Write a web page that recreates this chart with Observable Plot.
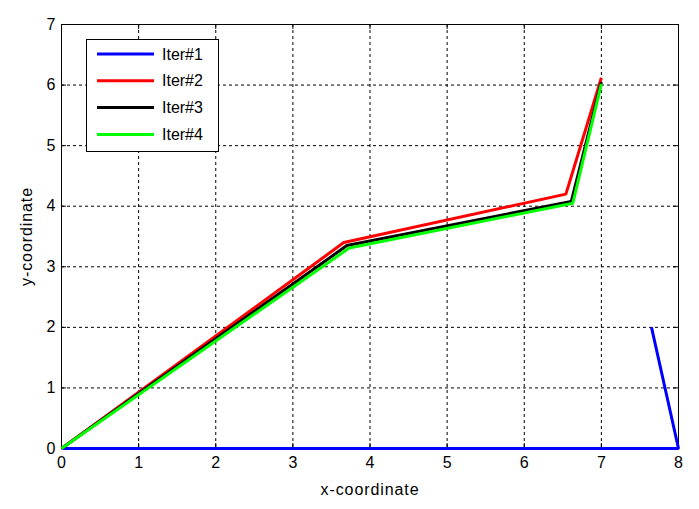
<!DOCTYPE html>
<html>
<head>
<meta charset="utf-8">
<script src="https://cdn.jsdelivr.net/npm/d3@7"></script>
<script src="https://cdn.jsdelivr.net/npm/@observablehq/plot@0.6"></script>
<style>
  html, body { margin: 0; padding: 0; background: #fff; }
  #chart { position: relative; width: 699px; height: 509px; }
</style>
</head>
<body>
<div id="chart"></div>
<script>
const seriesNames = ["Iter#1", "Iter#2", "Iter#3", "Iter#4"];
const seriesColors = ["#0000ff", "#ff0000", "#000000", "#00ff00"];
const iter1X = [0, 8, 7.65];
const iter1Y = [0, 0, 2.0];
const iter2X = [0, 3.66, 6.54, 7.0];
const iter2Y = [0, 3.40, 4.20, 6.12];
const iter3X = [0, 3.70, 6.61, 7.0];
const iter3Y = [0, 3.35, 4.08, 6.05];
const iter4X = [0, 3.73, 6.63, 7.0];
const iter4Y = [0, 3.31, 4.05, 6.02];
const xTicks = [0, 1, 2, 3, 4, 5, 6, 7, 8];
const yTicks = [0, 1, 2, 3, 4, 5, 6, 7];

const allX = [iter1X, iter2X, iter3X, iter4X];
const allY = [iter1Y, iter2Y, iter3Y, iter4Y];
const rows = [];
allX.forEach((xs, s) => xs.forEach((x, i) => rows.push({series: seriesNames[s], x, y: allY[s][i]})));

const W = 699, H = 509, mL = 61, mR = 21, mT = 24, mB = 61;
const fw = W - mL - mR, fh = H - mT - mB;
const font = "Liberation Sans, Arial, sans-serif";
const tick = 5;

const plot = Plot.plot({
  width: W, height: H,
  marginLeft: mL, marginRight: mR, marginTop: mT, marginBottom: mB,
  style: {fontFamily: font, fontSize: "16px", background: "#fff", color: "#000", overflow: "visible"},
  x: {domain: [0, 8], ticks: xTicks, tickFormat: d => String(d)},
  y: {domain: [0, 7], ticks: yTicks, tickFormat: d => String(d)},
  color: {domain: seriesNames, range: seriesColors},
  marks: [
    Plot.ruleX(xTicks.slice(1, -1), {stroke: "#000", strokeDasharray: "3,3", strokeWidth: 1}),
    Plot.ruleY(yTicks.slice(1, -1), {stroke: "#000", strokeDasharray: "3,3", strokeWidth: 1}),
    Plot.tickX(xTicks, {stroke: "#000", insetTop: fh - tick}),
    Plot.tickX(xTicks, {stroke: "#000", insetBottom: fh - tick}),
    Plot.tickY(yTicks, {stroke: "#000", insetRight: fw - tick}),
    Plot.tickY(yTicks, {stroke: "#000", insetLeft: fw - tick}),
    Plot.frame({stroke: "#000", strokeWidth: 1}),
    Plot.axisX(xTicks, {tickSize: 0, tickPadding: 8, fontSize: 16, tickFormat: d => String(d), label: "x-coordinate", labelAnchor: "center", labelArrow: "none", labelOffset: 46}),
    Plot.axisY(yTicks, {tickSize: 0, tickPadding: 6, fontSize: 16, tickFormat: d => String(d), label: "y-coordinate", labelAnchor: "center", labelArrow: "none", labelOffset: 41}),
    Plot.line(rows, {x: "x", y: "y", z: "series", stroke: "series", strokeWidth: 3, strokeLinejoin: "miter", strokeLinecap: "butt"})
  ]
});

document.getElementById("chart").appendChild(plot);

const svg = d3.select(plot);
svg.selectAll("g[aria-label='x-axis label'] text, g[aria-label='y-axis label'] text")
  .style("letter-spacing", "0.9px");

// legend inside the plot area (upper-left)
const lg = svg.append("g").style("font-family", font).style("font-size", "16px").attr("text-anchor", "start");
const lx = 86.5, ly = 39.5, lw = 132, lh = 112;
lg.append("rect").attr("x", lx).attr("y", ly).attr("width", lw).attr("height", lh)
  .attr("fill", "#fff").attr("stroke", "#000").attr("stroke-width", 1);
seriesNames.forEach((name, i) => {
  const yy = 54 + i * 26.8;
  lg.append("line").attr("x1", 97).attr("x2", 154).attr("y1", yy).attr("y2", yy)
    .attr("stroke", seriesColors[i]).attr("stroke-width", 3);
  lg.append("text").attr("x", 162).attr("y", yy).attr("dy", "0.35em").attr("fill", "#000")
    .attr("text-anchor", "start").text(name);
});
</script>
</body>
</html>
